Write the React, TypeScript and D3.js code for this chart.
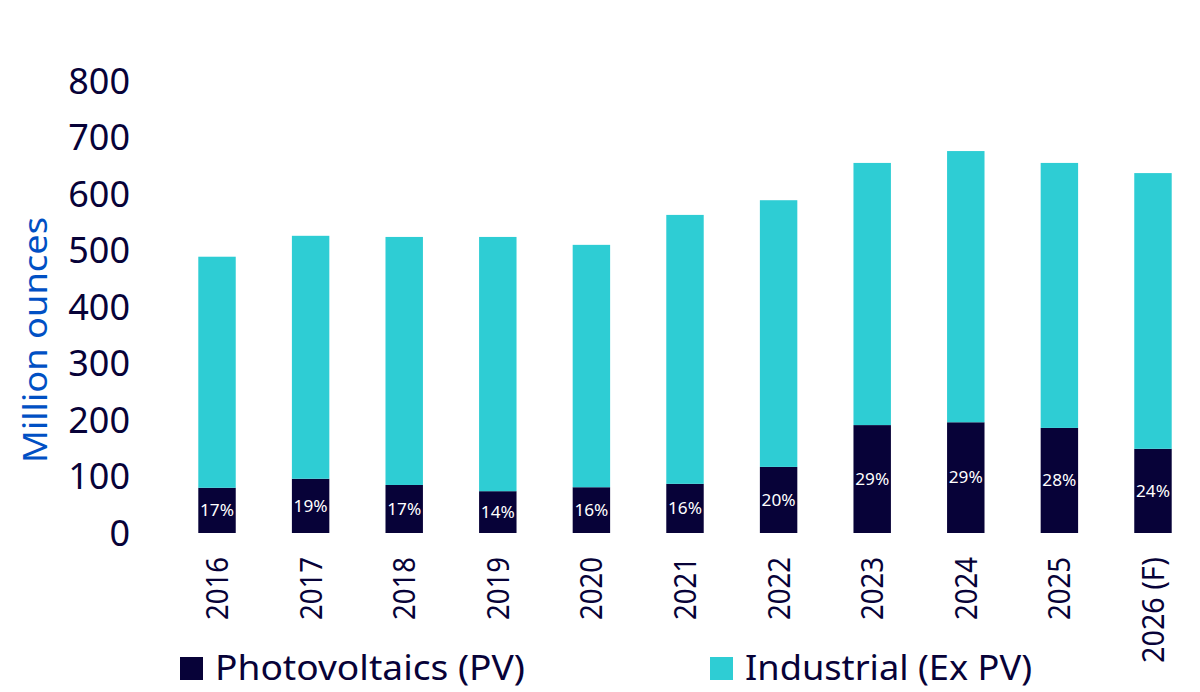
import React, { useRef, useEffect } from 'react';
import * as d3 from 'd3';

const years = ['2016', '2017', '2018', '2019', '2020', '2021', '2022', '2023', '2024', '2025', '2026 (F)'];
const pvValues = [80, 96, 85, 74, 81, 87, 117, 191, 196, 186, 149];
const industrialValues = [409, 430, 439, 450, 429, 476, 472, 464, 480, 469, 488];
const pvShares = ['17%', '19%', '17%', '14%', '16%', '16%', '20%', '29%', '29%', '28%', '24%'];
const yTicks = [0, 100, 200, 300, 400, 500, 600, 700, 800];

const NAVY = '#070238';
const TEAL = '#2ECDD4';
const FONT = '"Noto Sans", sans-serif';

const Chart: React.FC = () => {
  const svgRef = useRef<SVGSVGElement | null>(null);

  useEffect(() => {
    const svg = d3.select(svgRef.current);
    svg.selectAll('*').remove();

    const x = d3.scaleBand()
      .domain(years)
      .range([151.5, 1218.5])
      .paddingInner(0.6)
      .paddingOuter(0.5);

    const y = d3.scaleLinear()
      .domain([0, 800])
      .range([533, 81]);

    // y tick labels (no axis line)
    svg.append('g')
      .selectAll('text')
      .data(yTicks)
      .enter()
      .append('text')
      .attr('x', 130)
      .attr('y', d => y(d))
      .attr('dy', '0.36em')
      .attr('text-anchor', 'end')
      .attr('fill', NAVY)
      .style('font-family', FONT)
      .style('font-size', '36px')
      .text(d => d);

    svg.append('text')
      .attr('transform', 'translate(47, 340) rotate(-90)')
      .attr('text-anchor', 'middle')
      .attr('fill', '#0050C4')
      .style('font-family', FONT)
      .style('font-size', '33px')
      .attr('textLength', 246)
      .attr('lengthAdjust', 'spacingAndGlyphs')
      .text('Million ounces');

    const bars = svg.append('g');

    bars.selectAll('.pv')
      .data(pvValues)
      .enter()
      .append('rect')
      .attr('class', 'pv')
      .attr('x', (d, i) => x(years[i])!)
      .attr('y', d => y(d))
      .attr('width', x.bandwidth())
      .attr('height', d => y(0) - y(d))
      .attr('fill', NAVY);

    bars.selectAll('.ind')
      .data(industrialValues)
      .enter()
      .append('rect')
      .attr('class', 'ind')
      .attr('x', (d, i) => x(years[i])!)
      .attr('y', (d, i) => y(pvValues[i] + d))
      .attr('width', x.bandwidth())
      .attr('height', (d, i) => y(pvValues[i]) - y(pvValues[i] + d))
      .attr('fill', TEAL);

    bars.selectAll('.share')
      .data(pvShares)
      .enter()
      .append('text')
      .attr('x', (d, i) => x(years[i])! + x.bandwidth() / 2)
      .attr('y', (d, i) => (y(0) + y(pvValues[i])) / 2)
      .attr('dy', '0.36em')
      .attr('text-anchor', 'middle')
      .attr('fill', '#ffffff')
      .style('font-family', FONT)
      .style('font-size', '16px')
      .attr('textLength', 34)
      .attr('lengthAdjust', 'spacingAndGlyphs')
      .text(d => d);

    // rotated category labels
    svg.append('g')
      .selectAll('text')
      .data(years)
      .enter()
      .append('text')
      .attr('transform', d => `translate(${x(d)! + x.bandwidth() / 2 + 11}, 557) rotate(-90)`)
      .attr('text-anchor', 'end')
      .attr('fill', NAVY)
      .style('font-family', FONT)
      .style('font-size', '30px')
      .attr('textLength', d => (d.length > 4 ? 106 : 63))
      .attr('lengthAdjust', 'spacingAndGlyphs')
      .text(d => d);

    // legend
    const legend = [
      { label: 'Photovoltaics (PV)', color: NAVY, x: 180, w: 310 },
      { label: 'Industrial (Ex PV)', color: TEAL, x: 710, w: 287 },
    ];
    const lg = svg.append('g');
    lg.selectAll('rect')
      .data(legend)
      .enter()
      .append('rect')
      .attr('x', d => d.x)
      .attr('y', 657)
      .attr('width', 23)
      .attr('height', 23)
      .attr('fill', d => d.color);
    lg.selectAll('text')
      .data(legend)
      .enter()
      .append('text')
      .attr('x', d => d.x + 35)
      .attr('y', 680)
      .attr('fill', NAVY)
      .style('font-family', FONT)
      .style('font-size', '34px')
      .attr('textLength', d => d.w)
      .attr('lengthAdjust', 'spacingAndGlyphs')
      .text(d => d.label);
  }, []);

  return (
    <svg
      ref={svgRef}
      width={1200}
      height={692}
      style={{ position: 'absolute', left: 0, top: 0, background: '#ffffff' }}
    />
  );
};

export default function App() {
  return <Chart />;
}
